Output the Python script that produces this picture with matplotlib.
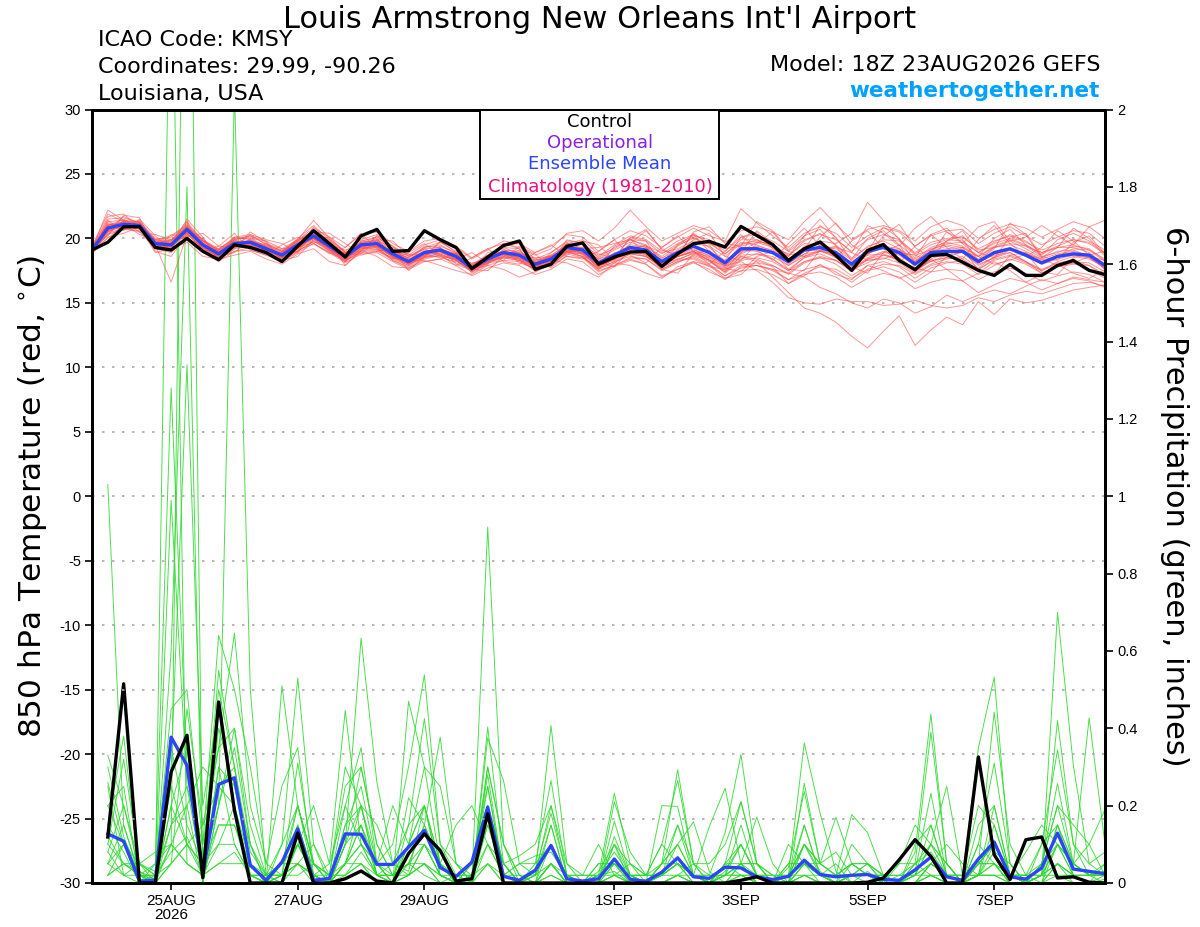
import numpy as np
import matplotlib
matplotlib.use('Agg')
import matplotlib.pyplot as plt
from matplotlib.patches import Rectangle

plt.rcParams['font.family'] = ['DejaVu Sans']
plt.rcParams['axes.unicode_minus'] = False

# ---------------- data ----------------
title = "Louis Armstrong New Orleans Int'l Airport"
info_left = ["ICAO Code: KMSY", "Coordinates: 29.99, -90.26", "Louisiana, USA"]
model_text = "Model: 18Z 23AUG2026 GEFS"
site_text = "weathertogether.net"
legend_labels = ["Control", "Operational", "Ensemble Mean", "Climatology (1981-2010)"]

x_tick_hours = [30, 78, 126, 198, 246, 294, 342]
x_tick_labels = ["25AUG\n2026", "27AUG", "29AUG", "1SEP", "3SEP", "5SEP", "7SEP"]
temp_ticks = [-30, -25, -20, -15, -10, -5, 0, 5, 10, 15, 20, 25, 30]
precip_ticks = [0, 0.2, 0.4, 0.6, 0.8, 1.0, 1.2, 1.4, 1.6, 1.8, 2.0]
precip_tick_labels = ["0", "0.2", "0.4", "0.6", "0.8", "1", "1.2", "1.4", "1.6", "1.8", "2"]

# 850 hPa temperature, 0h..384h every 6 h
temp_control = [19.1, 19.7, 20.9, 20.9, 19.3, 19.1, 20.0, 19.0, 18.35, 19.5,
                19.3, 18.9, 18.2, 19.4, 20.6, 19.6, 18.55, 20.2, 20.7, 19.0,
                19.05, 20.6, 19.9, 19.3, 17.65, 18.55, 19.45, 19.8, 17.6, 18.0,
                19.4, 19.65, 18.0, 18.55, 18.94, 18.99, 17.83, 18.81, 19.59, 19.77,
                19.33, 20.93, 20.23, 19.53, 18.29, 19.2, 19.72, 18.68, 17.52, 19.07,
                19.53, 18.29, 17.57, 18.68, 18.76, 18.16, 17.52, 17.13, 17.98, 17.13,
                17.13, 17.9, 18.29, 17.52, 17.2]
temp_mean = [19.1, 20.8, 21.1, 21.0, 19.6, 19.5, 20.7, 19.5, 18.8, 19.6,
             19.7, 19.2, 18.7, 19.5, 20.2, 19.4, 18.6, 19.5, 19.6, 18.8,
             18.2, 18.9, 19.1, 18.6, 17.7, 18.4, 18.9, 18.7, 18.0, 18.4,
             19.3, 19.1, 18.1, 18.7, 19.3, 19.1, 18.2, 18.9, 19.4, 18.9,
             18.1, 19.2, 19.2, 18.9, 18.2, 19.1, 19.3, 18.9, 18.0, 19.0,
             19.3, 18.9, 18.0, 18.9, 19.0, 19.0, 18.2, 18.9, 19.2, 18.7,
             18.1, 18.6, 18.8, 18.7, 17.9]
temp_members = [
    [19.3, 21.5, 21.6, 21.2, 19.9, 20.1, 21.0, 19.8, 19.0, 19.9,
     20.2, 19.6, 19.0, 19.8, 20.6, 19.9, 19.0, 19.9, 20.3, 19.4,
     18.7, 19.5, 19.9, 19.3, 18.4, 19.1, 19.8, 19.6, 18.9, 19.4,
     20.3, 20.1, 19.0, 19.9, 20.6, 20.2, 19.3, 20.1, 20.8, 20.2,
     19.8, 22.3, 21.2, 20.2, 19.3, 20.4, 20.9, 20.4, 19.3, 20.2,
     20.8, 20.5, 19.4, 20.2, 20.6, 20.7, 19.6, 20.4, 20.9, 20.2,
     19.5, 20.1, 20.6, 20.4, 19.4],
    [19.0, 20.3, 20.7, 20.6, 19.2, 18.9, 20.1, 19.0, 18.2, 19.0,
     19.1, 18.7, 18.2, 18.9, 19.6, 18.9, 18.1, 18.8, 18.9, 18.2,
     17.6, 18.2, 18.4, 17.9, 17.1, 17.7, 18.1, 17.9, 17.2, 17.6,
     18.4, 18.2, 17.2, 17.8, 18.3, 18.0, 17.1, 17.6, 18.1, 17.6,
     16.8, 17.8, 17.9, 17.5, 16.8, 17.6, 17.9, 17.4, 16.6, 17.5,
     17.8, 17.4, 16.6, 17.4, 17.6, 17.5, 16.8, 17.4, 17.7, 17.3,
     16.7, 17.1, 17.4, 17.2, 16.6],
    [19.2, 22.2, 21.4, 21.3, 20.0, 19.8, 21.3, 19.8, 19.1, 20.1,
     20.3, 19.5, 19.0, 19.9, 21.4, 20.0, 18.9, 19.6, 19.9, 19.2,
     18.6, 19.3, 19.7, 19.0, 18.0, 18.7, 19.3, 19.2, 18.4, 18.9,
     19.8, 19.7, 18.5, 19.3, 19.9, 19.8, 18.8, 19.6, 20.2, 19.9,
     19.0, 20.1, 20.3, 19.8, 19.0, 19.9, 20.3, 19.9, 19.0, 19.9,
     20.3, 19.9, 18.9, 19.7, 20.0, 20.1, 19.2, 19.8, 20.2, 19.7,
     19.1, 19.6, 19.9, 19.7, 18.9],
    [19.0, 20.5, 21.0, 21.1, 19.5, 16.6, 20.3, 19.3, 18.6, 19.4,
     19.4, 19.0, 18.5, 19.2, 19.9, 19.2, 18.3, 19.2, 19.4, 18.5,
     17.9, 18.6, 18.8, 18.3, 17.4, 18.1, 18.7, 18.5, 17.7, 18.2,
     19.0, 18.8, 17.8, 18.4, 19.0, 18.8, 17.9, 18.6, 19.0, 18.5,
     17.7, 18.7, 18.8, 18.4, 17.6, 18.5, 18.8, 18.3, 17.4, 18.4,
     18.7, 18.3, 17.4, 18.3, 18.5, 18.4, 17.6, 18.3, 18.6, 18.1,
     17.5, 18.0, 18.2, 18.1, 17.4],
    [19.2, 21.0, 21.5, 20.8, 19.8, 19.9, 20.9, 19.6, 18.9, 19.5,
     19.9, 19.4, 18.5, 19.3, 20.0, 19.0, 18.4, 19.7, 19.8, 18.6,
     18.0, 18.7, 19.4, 18.9, 17.9, 18.2, 18.5, 18.3, 17.6, 18.6,
     19.6, 19.5, 18.7, 19.2, 19.9, 19.5, 18.4, 19.4, 20.1, 19.3,
     18.2, 19.0, 19.7, 19.6, 18.6, 19.8, 20.4, 19.5, 18.5, 19.3,
     19.9, 19.8, 18.7, 19.1, 19.8, 20.2, 19.1, 19.3, 19.6, 19.4,
     18.6, 18.9, 19.4, 19.2, 18.3],
    [19.0, 20.9, 21.3, 21.3, 19.4, 19.7, 20.5, 19.6, 18.9, 19.8,
     19.7, 19.0, 18.9, 19.8, 20.4, 19.6, 18.8, 19.3, 19.4, 19.0,
     18.5, 19.3, 19.5, 18.8, 17.6, 18.3, 19.1, 19.0, 18.3, 18.7,
     19.1, 18.9, 17.7, 18.2, 18.6, 18.4, 17.5, 18.1, 18.7, 18.2,
     17.4, 18.4, 18.8, 18.6, 17.9, 18.8, 19.5, 19.2, 18.3, 19.4,
     19.8, 19.2, 18.0, 18.6, 19.0, 18.9, 17.9, 18.5, 18.9, 18.2,
     17.5, 18.2, 18.6, 18.4, 17.8],
    [19.1, 21.2, 21.0, 20.7, 19.7, 19.3, 20.6, 19.2, 18.5, 19.3,
     19.5, 19.1, 18.8, 19.5, 20.4, 19.5, 18.7, 19.8, 20.1, 19.2,
     18.4, 18.9, 18.8, 18.3, 17.5, 18.6, 19.3, 18.8, 18.2, 18.5,
     19.0, 18.6, 17.6, 18.5, 19.3, 19.4, 18.6, 19.5, 20.0, 19.6,
     18.8, 19.9, 19.9, 19.4, 18.4, 19.0, 19.1, 18.5, 17.6, 18.5,
     19.0, 18.7, 17.9, 19.1, 19.6, 19.7, 18.9, 19.6, 20.0, 19.5,
     18.8, 19.3, 19.5, 19.1, 18.2],
    [19.3, 20.6, 21.7, 21.2, 19.6, 19.4, 20.9, 19.9, 19.1, 19.7,
     19.6, 19.3, 18.6, 19.0, 19.8, 19.1, 18.2, 19.1, 19.2, 18.4,
     17.9, 18.8, 19.0, 18.7, 18.0, 18.5, 18.8, 18.4, 17.7, 18.1,
     19.1, 19.0, 18.3, 18.8, 19.4, 18.9, 17.9, 18.7, 19.2, 18.4,
     17.6, 18.9, 19.4, 19.1, 18.3, 19.4, 19.7, 19.0, 17.9, 18.7,
     18.8, 18.3, 17.5, 18.4, 18.9, 19.1, 18.4, 19.3, 19.8, 19.2,
     18.5, 19.0, 19.1, 18.6, 17.6],
    [18.9, 20.4, 20.8, 20.5, 19.3, 19.6, 20.4, 19.5, 18.7, 19.4,
     19.6, 19.4, 19.0, 19.6, 20.0, 19.3, 18.5, 19.4, 19.5, 18.9,
     18.5, 19.2, 19.3, 18.5, 17.8, 18.6, 19.0, 18.7, 18.1, 18.7,
     19.5, 19.3, 18.4, 19.1, 19.7, 19.3, 18.5, 19.0, 19.3, 18.6,
     17.9, 19.1, 19.0, 18.4, 17.5, 18.2, 18.6, 18.3, 17.6, 18.8,
     19.4, 19.2, 18.4, 19.3, 19.7, 19.4, 18.6, 19.4, 19.9, 19.4,
     18.9, 19.3, 19.3, 18.9, 18.0],
    [19.2, 20.7, 21.2, 20.9, 19.5, 19.2, 20.8, 19.3, 18.6, 19.9,
     20.1, 19.3, 18.4, 19.2, 20.1, 19.2, 18.3, 19.2, 19.3, 18.3,
     17.8, 18.5, 18.9, 18.5, 17.4, 18.1, 18.6, 18.4, 17.5, 17.9,
     18.9, 18.8, 17.9, 18.7, 19.5, 19.3, 18.1, 18.6, 19.0, 18.3,
     17.3, 18.3, 18.5, 18.2, 17.5, 18.5, 19.0, 18.8, 18.0, 18.9,
     19.3, 19.0, 18.2, 19.2, 19.5, 19.3, 18.3, 18.7, 18.9, 18.2,
     17.3, 17.8, 18.0, 17.9, 17.0],
    [19.0, 21.0, 21.2, 21.1, 19.9, 20.2, 21.1, 19.9, 19.2, 20.0,
     20.2, 19.8, 19.2, 19.9, 20.8, 20.1, 19.3, 20.3, 20.5, 19.6,
     19.0, 19.8, 20.0, 19.4, 18.5, 19.2, 19.6, 19.3, 18.7, 19.2,
     20.4, 20.6, 19.8, 20.8, 22.2, 20.9, 19.8, 20.4, 21.0, 20.6,
     19.7, 20.6, 20.9, 20.5, 19.9, 21.3, 22.4, 21.1, 19.9, 20.7,
     21.0, 20.6, 19.8, 20.9, 21.4, 21.0, 20.0, 20.7, 21.1, 20.8,
     20.1, 20.7, 21.3, 20.9, 20.0],
    [19.1, 20.9, 20.9, 21.4, 19.8, 19.6, 20.6, 19.4, 18.8, 19.5,
     19.5, 19.0, 18.5, 19.5, 20.1, 19.3, 18.4, 19.3, 19.4, 18.6,
     18.0, 18.5, 18.7, 18.3, 17.5, 18.2, 18.8, 18.6, 17.8, 18.1,
     18.9, 18.6, 17.6, 18.1, 18.8, 18.6, 17.8, 18.6, 19.1, 18.7,
     18.0, 19.5, 19.9, 19.3, 18.1, 18.8, 19.0, 18.6, 17.8, 18.3,
     18.5, 18.1, 17.3, 18.0, 18.4, 18.6, 17.7, 18.6, 19.2, 18.8,
     18.2, 18.7, 18.9, 18.5, 17.7],
    [19.2, 21.3, 21.4, 20.9, 19.4, 19.0, 20.5, 19.6, 19.0, 19.8,
     19.8, 19.3, 18.9, 19.7, 20.3, 19.5, 18.8, 19.7, 19.9, 19.1,
     18.4, 18.9, 19.2, 18.8, 17.9, 18.4, 18.9, 18.9, 18.3, 18.6,
     19.2, 19.1, 18.4, 18.8, 19.2, 18.9, 18.0, 18.6, 18.9, 18.3,
     17.5, 18.6, 18.4, 17.9, 17.2, 18.1, 18.5, 18.0, 17.1, 17.9,
     18.2, 17.8, 16.9, 17.7, 18.1, 18.3, 17.6, 18.4, 18.7, 18.2,
     17.6, 18.1, 18.3, 17.9, 17.2],
    [19.0, 20.6, 21.0, 21.1, 19.7, 19.8, 21.0, 19.7, 18.9, 19.5,
     19.8, 19.5, 19.1, 19.8, 20.5, 19.8, 18.9, 19.6, 19.5, 18.7,
     18.1, 18.9, 19.2, 18.6, 17.6, 18.1, 18.5, 18.3, 17.8, 18.3,
     19.3, 19.3, 18.6, 19.5, 20.2, 19.9, 19.0, 19.8, 20.3, 19.7,
     18.8, 19.7, 19.5, 19.0, 18.3, 19.3, 19.8, 19.6, 20.4, 22.8,
     21.4, 19.9, 18.8, 19.5, 19.9, 19.8, 18.9, 19.7, 20.3, 19.8,
     18.9, 19.4, 19.9, 19.6, 18.8],
    [19.1, 20.5, 21.2, 21.0, 19.5, 19.4, 20.4, 19.1, 18.4, 19.2,
     19.4, 18.9, 18.3, 19.0, 19.8, 19.0, 18.2, 19.0, 19.1, 18.3,
     17.7, 18.4, 18.7, 18.3, 17.5, 18.2, 18.7, 18.3, 17.5, 18.0,
     18.8, 18.5, 17.4, 17.9, 18.4, 18.0, 17.0, 17.6, 18.2, 17.9,
     17.1, 17.9, 18.1, 17.9, 17.3, 18.2, 18.5, 18.3, 17.5, 18.4,
     18.9, 18.8, 18.2, 19.0, 19.4, 19.1, 18.1, 18.8, 19.1, 18.6,
     18.0, 18.4, 18.7, 18.5, 17.7],
    [19.2, 21.1, 20.9, 20.8, 19.6, 19.5, 20.8, 19.8, 19.1, 20.0,
     20.0, 19.2, 18.7, 19.4, 20.0, 19.4, 18.7, 19.6, 19.8, 19.0,
     18.3, 19.0, 19.0, 18.4, 17.6, 18.5, 19.1, 18.9, 18.2, 18.6,
     19.3, 19.0, 17.9, 18.3, 18.9, 19.0, 18.3, 19.1, 19.6, 19.4,
     18.6, 19.6, 19.8, 19.5, 18.7, 19.6, 19.5, 18.8, 17.9, 18.8,
     19.3, 19.1, 18.3, 19.0, 19.2, 19.3, 18.6, 19.3, 19.5, 19.0,
     18.4, 18.8, 19.0, 18.7, 17.9],
    [19.0, 20.8, 21.3, 21.2, 19.6, 19.8, 20.9, 19.4, 18.7, 19.6,
     19.8, 19.4, 18.9, 19.6, 20.2, 19.3, 18.5, 19.4, 19.6, 18.9,
     18.3, 18.8, 19.1, 18.8, 17.9, 18.6, 19.0, 18.6, 17.9, 18.2,
     19.0, 18.9, 18.0, 18.6, 19.2, 18.8, 17.6, 18.2, 18.5, 17.9,
     16.9, 17.5, 17.6, 17.2, 16.5, 17.3, 17.8, 17.6, 16.9, 17.6,
     18.0, 17.9, 17.2, 17.9, 18.2, 18.0, 17.2, 17.9, 18.4, 18.0,
     17.3, 17.8, 18.1, 17.6, 16.9],
    [19.1, 20.7, 21.1, 21.0, 19.5, 19.3, 20.6, 19.5, 18.8, 19.6,
     19.6, 19.1, 18.6, 19.4, 20.1, 19.2, 18.5, 19.3, 19.4, 18.6,
     18.0, 18.7, 19.0, 18.5, 17.6, 18.2, 18.6, 18.4, 17.9, 18.3,
     19.1, 18.9, 17.8, 18.4, 19.2, 18.9, 17.9, 18.6, 19.0, 18.3,
     17.4, 18.6, 18.2, 17.0, 15.8, 14.6, 14.2, 13.5, 12.4, 11.5,
     12.8, 14.0, 11.7, 12.9, 13.9, 13.3, 15.1, 14.1, 15.3, 15.0,
     15.2, 15.6, 16.0, 16.2, 16.4],
    [19.0, 21.0, 21.3, 21.1, 19.6, 19.4, 20.7, 19.3, 18.6, 19.5,
     19.8, 19.3, 18.8, 19.6, 20.3, 19.6, 18.8, 19.7, 19.8, 18.9,
     18.3, 19.0, 19.2, 18.7, 17.8, 18.5, 19.0, 18.8, 18.1, 18.5,
     19.4, 19.2, 18.2, 18.6, 19.0, 18.6, 17.7, 18.4, 18.8, 18.3,
     17.9, 18.2, 17.5, 16.6, 15.4, 15.0, 14.9, 15.3, 15.1, 15.1,
     14.8, 14.9, 15.2, 14.8, 14.6, 14.8, 15.4, 15.1, 15.6, 15.9,
     15.7, 16.1, 16.5, 16.6, 16.3],
    [19.2, 20.6, 21.0, 20.9, 19.7, 19.7, 20.8, 19.6, 18.9, 19.7,
     19.7, 19.1, 18.6, 19.4, 20.0, 19.2, 18.4, 19.2, 19.3, 18.6,
     18.1, 18.7, 18.9, 18.4, 17.7, 18.4, 18.8, 18.5, 17.9, 18.3,
     19.0, 18.6, 17.5, 17.9, 18.5, 18.4, 17.6, 18.2, 18.6, 18.0,
     17.1, 17.7, 17.9, 17.6, 16.8, 17.2, 17.4, 17.0, 16.2, 16.9,
     17.3, 17.0, 16.1, 16.6, 16.9, 16.7, 15.8, 16.4, 16.9, 16.6,
     16.0, 16.5, 16.9, 16.7, 16.2],
    [19.4, 21.9, 21.3, 20.5, 20.3, 19.9, 20.1, 20.4, 19.4, 19.3,
     20.3, 19.9, 19.6, 18.9, 20.5, 20.4, 19.6, 18.8, 19.9, 19.8,
     18.6, 19.2, 18.6, 18.4, 18.9, 18.1, 18.3, 19.4, 18.8, 17.7,
     18.7, 19.8, 19.5, 18.3, 19.6, 20.6, 19.2, 18.6, 20.5, 20.9,
     19.6, 19.4, 21.3, 20.6, 19.1, 20.2, 21.5, 20.0, 18.9, 21.0,
     20.4, 19.4, 20.8, 21.7, 20.5, 19.6, 20.9, 21.3, 19.8, 20.1,
     21.0, 20.2, 19.5, 20.9, 21.4],
    [18.8, 20.1, 20.4, 20.9, 18.9, 19.2, 19.7, 18.6, 18.4, 18.7,
     19.0, 18.4, 18.0, 18.8, 19.2, 18.2, 17.9, 19.1, 18.6, 17.8,
     17.7, 18.3, 17.9, 17.5, 17.2, 17.9, 17.6, 17.0, 17.4, 18.3,
     18.1, 17.6, 17.0, 18.1, 17.9, 17.3, 16.9, 17.8, 18.2, 17.4,
     16.9, 17.2, 18.3, 17.8, 16.5, 17.1, 18.0, 17.2, 16.8, 17.9,
     17.5, 16.9, 17.4, 18.4, 17.6, 16.7, 17.3, 18.2, 17.5, 16.6,
     17.2, 18.0, 17.3, 16.9, 17.6],
    [19.3, 20.2, 21.8, 21.6, 19.2, 20.3, 20.1, 19.0, 19.4, 20.4,
     19.1, 18.7, 19.5, 20.1, 19.6, 18.8, 19.3, 20.4, 19.2, 18.4,
     18.9, 19.6, 18.7, 17.9, 18.5, 19.2, 18.2, 18.0, 18.9, 19.5,
     18.6, 18.4, 19.0, 19.9, 18.7, 18.1, 19.3, 20.2, 19.0, 18.0,
     19.0, 20.3, 19.1, 18.3, 19.6, 20.8, 19.4, 18.5, 19.8, 20.6,
     19.2, 18.1, 19.4, 20.3, 19.3, 18.4, 19.9, 21.0, 19.6, 18.6,
     19.3, 20.6, 19.8, 18.7, 19.0],
    [19.0, 21.4, 20.6, 21.5, 20.2, 19.1, 21.3, 19.0, 19.2, 19.9,
     19.2, 18.8, 18.9, 20.0, 21.0, 19.9, 18.6, 19.0, 20.2, 19.4,
     18.0, 18.5, 19.7, 19.2, 17.8, 18.0, 19.5, 19.6, 18.4, 18.2,
     19.6, 19.9, 18.8, 18.5, 20.0, 20.7, 19.1, 18.7, 19.9, 20.4,
     18.6, 18.3, 19.6, 20.5, 19.0, 18.6, 20.1, 21.2, 19.5, 18.7,
     20.2, 21.1, 19.3, 18.5, 19.8, 20.6, 18.9, 18.5, 20.1, 20.4,
     18.6, 18.3, 19.7, 20.2, 18.8],
    [19.1, 20.0, 21.1, 20.3, 19.9, 19.6, 20.2, 20.0, 18.6, 18.9,
     20.0, 19.8, 18.3, 18.6, 19.9, 20.1, 18.9, 18.7, 19.0, 19.3,
     18.8, 18.2, 18.4, 18.9, 17.6, 17.5, 18.6, 19.1, 17.9, 17.8,
     19.0, 19.2, 18.2, 17.8, 19.1, 19.5, 17.6, 17.3, 18.8, 19.1,
     17.7, 17.4, 18.6, 19.0, 17.6, 17.5, 19.1, 19.4, 17.8, 17.3,
     18.9, 19.5, 17.7, 17.4, 18.6, 19.3, 17.5, 17.2, 18.7, 18.9,
     17.4, 17.2, 18.5, 18.8, 17.6],
    [19.2, 21.7, 21.9, 20.8, 19.3, 19.4, 21.5, 20.1, 18.3, 19.2,
     20.5, 19.7, 18.2, 19.0, 20.9, 19.7, 17.9, 19.0, 20.2, 19.1,
     17.5, 18.6, 19.8, 18.9, 17.3, 18.0, 19.6, 19.2, 17.4, 18.0,
     19.9, 19.6, 17.9, 18.4, 20.1, 19.8, 18.0, 18.7, 20.4, 19.5,
     17.8, 18.9, 20.6, 19.6, 18.0, 19.1, 21.0, 20.1, 18.2, 19.0,
     20.9, 20.0, 18.1, 18.8, 20.5, 19.9, 18.3, 19.2, 21.2, 20.3,
     18.5, 19.3, 20.8, 20.0, 18.6],
    [18.9, 20.9, 20.7, 21.0, 19.0, 18.6, 20.3, 19.8, 19.0, 19.3,
     19.4, 19.6, 19.2, 19.3, 19.7, 19.5, 19.1, 19.4, 19.1, 19.0,
     18.7, 18.8, 18.5, 18.2, 18.1, 18.3, 18.5, 18.6, 18.5, 18.6,
     18.9, 19.2, 19.3, 19.6, 19.9, 19.4, 18.9, 19.2, 19.8, 19.6,
     19.2, 19.4, 19.7, 19.3, 18.8, 18.6, 19.0, 19.3, 18.9, 18.3,
     18.4, 18.9, 18.7, 18.2, 18.5, 19.0, 18.6, 18.0, 18.3, 18.8,
     18.4, 17.9, 18.1, 18.6, 18.3],
    [19.1, 20.5, 21.2, 20.9, 19.5, 19.9, 20.4, 19.2, 18.9, 19.8,
     19.5, 19.0, 18.8, 19.7, 20.0, 19.1, 18.6, 19.5, 19.4, 18.6,
     18.3, 19.1, 19.0, 18.4, 17.9, 18.7, 18.8, 18.5, 18.1, 18.6,
     19.2, 18.8, 18.0, 18.9, 19.1, 18.7, 18.0, 18.4, 18.4, 17.8,
     17.6, 18.0, 17.9, 17.6, 17.3, 17.0, 16.2, 15.7, 15.0, 14.6,
     15.3, 15.0, 14.2, 14.7, 15.6, 15.1, 15.6, 16.0, 15.7, 16.3,
     16.8, 16.5, 17.0, 16.8, 16.6],
    [19.3, 21.1, 21.0, 21.2, 19.8, 19.5, 20.9, 19.1, 18.7, 20.1,
     19.9, 19.0, 18.6, 19.9, 20.6, 19.1, 18.2, 19.8, 20.0, 18.5,
     18.2, 19.4, 19.3, 18.0, 17.5, 18.9, 19.2, 18.1, 17.7, 18.9,
     19.7, 18.7, 17.8, 19.4, 20.0, 18.7, 17.8, 19.5, 20.3, 19.0,
     18.3, 20.1, 20.5, 19.2, 18.6, 20.2, 20.7, 19.4, 18.4, 20.0,
     20.6, 19.5, 18.5, 20.3, 20.8, 19.6, 18.6, 20.0, 20.7, 19.5,
     18.7, 19.9, 20.4, 19.8, 19.1],
    [19.0, 20.3, 21.4, 21.0, 19.6, 19.2, 20.0, 19.4, 18.5, 19.0,
     19.3, 18.9, 18.4, 19.1, 19.6, 18.9, 18.3, 18.9, 19.0, 18.5,
     18.1, 18.6, 18.6, 18.1, 17.6, 17.9, 18.3, 18.2, 17.6, 17.9,
     18.6, 18.5, 17.7, 18.2, 18.8, 18.6, 17.8, 18.3, 18.9, 18.6,
     17.9, 18.8, 19.3, 18.9, 17.9, 18.6, 19.1, 18.7, 17.6, 18.1,
     18.7, 18.5, 17.6, 18.2, 18.7, 18.9, 18.0, 18.5, 19.1, 18.9,
     18.3, 18.6, 19.2, 19.1, 18.4],
]

# 6-hour precipitation, 6h..384h every 6 h (inches)
precip_control = [0.119, 0.515, 0, 0, 0.287, 0.382, 0.014, 0.468,
                  0.188, 0, 0, 0, 0.129, 0, 0, 0.011,
                  0.031, 0.005, 0, 0.076, 0.127, 0.084, 0.005, 0.011,
                  0.179, 0, 0, 0, 0, 0, 0, 0,
                  0, 0, 0, 0, 0, 0, 0, 0,
                  0.007, 0.016, 0, 0, 0, 0, 0, 0,
                  0.002, 0.013, 0.06, 0.112, 0.069, 0, 0, 0.326,
                  0.073, 0.009, 0.112, 0.119, 0.013, 0.016, 0.002, 0]
precip_mean = [0.127, 0.108, 0.005, 0.007, 0.377, 0.304, 0.024, 0.255,
               0.272, 0.046, 0.007, 0.054, 0.14, 0.007, 0.012, 0.127,
               0.126, 0.048, 0.048, 0.093, 0.136, 0.04, 0.017, 0.054,
               0.196, 0.017, 0.007, 0.033, 0.097, 0.011, 0.005, 0.011,
               0.062, 0.01, 0.004, 0.028, 0.065, 0.016, 0.012, 0.041,
               0.039, 0.016, 0.009, 0.017, 0.059, 0.022, 0.016, 0.02,
               0.022, 0.009, 0.007, 0.034, 0.067, 0.016, 0.007, 0.062,
               0.106, 0.016, 0.01, 0.039, 0.129, 0.036, 0.03, 0.024]
precip_members = [
    [1.03, 0.15, 0.02, 0, 2.6, 0.05, 0.02, 0.3,
     0.25, 0.1, 0, 0.02, 0.31, 0.05, 0, 0.2,
     0.35, 0.05, 0, 0.15, 0.425, 0.1, 0.02, 0,
     0.403, 0.05, 0, 0.03, 0.18, 0.02, 0, 0,
     0.16, 0.02, 0, 0.05, 0.293, 0.05, 0, 0.03,
     0.1, 0.02, 0, 0.04, 0.237, 0.05, 0.02, 0.05,
     0.02, 0, 0, 0.08, 0.437, 0.05, 0, 0.1,
     0.31, 0.05, 0, 0.02, 0.42, 0.1, 0.05, 0.08],
    [0.33, 0.2, 0.03, 0.01, 0.1, 3.3, 0, 0.2,
     0.4, 0.15, 0.02, 0, 0.15, 0.02, 0, 0.1,
     0.633, 0.26, 0.05, 0.03, 0.2, 0.05, 0, 0.02,
     0.3, 0.1, 0.02, 0, 0.05, 0, 0, 0.02,
     0.232, 0.05, 0, 0.02, 0.1, 0.158, 0.03, 0,
     0.05, 0, 0, 0.02, 0.1, 0.03, 0, 0.02,
     0.05, 0.02, 0, 0.03, 0.232, 0.02, 0, 0.05,
     0.442, 0.1, 0.02, 0, 0.15, 0.05, 0.1, 0.19],
    [0.26, 0.1, 0, 0.05, 1.28, 0.3, 0.05, 0.5,
     0.3, 0.05, 0, 0.1, 0.53, 0.1, 0, 0.05,
     0.2, 0.02, 0, 0.47, 0.3, 0.05, 0, 0.01,
     0.2, 0.05, 0, 0.02, 0.407, 0.05, 0, 0.03,
     0.1, 0.02, 0, 0.2, 0.198, 0.02, 0, 0.05,
     0.21, 0.05, 0, 0.02, 0.362, 0.18, 0.03, 0,
     0.03, 0, 0.02, 0.05, 0.39, 0.05, 0, 0.02,
     0.15, 0.02, 0, 0.05, 0.257, 0.05, 0.02, 0.03],
    [0.15, 0.38, 0.02, 0.02, 0.3, 1.34, 0.2, 0.45,
     0.2, 0.02, 0, 0.05, 0.2, 0.05, 0.02, 0.25,
     0.3, 0.1, 0.02, 0.05, 0.15, 0.377, 0.05, 0,
     0.375, 0.265, 0.05, 0.02, 0.1, 0.02, 0, 0,
     0.21, 0.08, 0.02, 0.1, 0.265, 0.05, 0.02, 0.13,
     0.332, 0.05, 0, 0.02, 0.1, 0.05, 0.17, 0.05,
     0.02, 0, 0.05, 0.15, 0.1, 0.02, 0, 0.02,
     0.08, 0.05, 0, 0.1, 0.344, 0.1, 0.02, 0],
    [0.1, 0.32, 0.05, 0, 0.99, 0.25, 0.1, 0.35,
     0.646, 0.2, 0.05, 0.25, 0.35, 0.02, 0, 0.15,
     0.25, 0.05, 0.1, 0.3, 0.538, 0.1, 0.05, 0,
     0.25, 0.02, 0, 0.05, 0.265, 0.02, 0, 0.05,
     0.05, 0.02, 0, 0.05, 0.1, 0.02, 0.146, 0.245,
     0.05, 0.17, 0.05, 0, 0.258, 0.05, 0.02, 0.177,
     0.13, 0.02, 0, 0.02, 0.1, 0.25, 0.02, 0.349,
     0.532, 0.05, 0, 0.02, 0.7, 0.304, 0.05, 0.02],
    [0.05, 0.15, 0.02, 0.01, 0.6, 1.8, 0, 0.2,
     2.05, 0.5, 0.02, 0, 0.1, 0.02, 0, 0.05,
     0.15, 0.02, 0, 0.1, 0.2, 0.02, 0, 0.01,
     0.92, 0.1, 0.02, 0, 0.05, 0, 0, 0.02,
     0.03, 0, 0.01, 0.02, 0.05, 0.02, 0, 0.02,
     0.1, 0.02, 0, 0.05, 0.05, 0.02, 0, 0.1,
     0.05, 0, 0, 0.02, 0.05, 0.02, 0.02, 0.2,
     0.15, 0.02, 0.08, 0.15, 0.1, 0.05, 0.427, 0.1],
    [0.2, 0.1, 0.05, 0.03, 0.45, 0.5, 0.1, 0.64,
     0.5, 0.3, 0.05, 0.02, 0.1, 0.2, 0.05, 0.446,
     0.1, 0.02, 0, 0.22, 0.15, 0.05, 0.15, 0.2,
     0.1, 0.05, 0.07, 0.1, 0.2, 0.05, 0.02, 0.1,
     0.02, 0.05, 0.02, 0.1, 0.05, 0, 0, 0.05,
     0.02, 0, 0, 0.1, 0.05, 0.05, 0.08, 0.02,
     0.02, 0.02, 0.05, 0.05, 0.02, 0, 0, 0.05,
     0.1, 0.02, 0.02, 0.1, 0.15, 0.02, 0, 0.05],
    [0.12, 0.05, 0.02, 0, 0.2, 0.35, 0.05, 0.55,
     0.3, 0.02, 0, 0.51, 0.2, 0.05, 0.02, 0.3,
     0.2, 0.15, 0.05, 0.02, 0.1, 0.05, 0, 0.02,
     0.15, 0.02, 0, 0.02, 0.2, 0.02, 0, 0,
     0.1, 0.05, 0.02, 0.02, 0.05, 0.02, 0, 0.02,
     0.05, 0.05, 0.02, 0, 0.1, 0.05, 0.02, 0.05,
     0.05, 0.02, 0, 0.1, 0.15, 0.02, 0, 0.05,
     0.05, 0.02, 0, 0.05, 0.1, 0.05, 0.02, 0.03],
    [0.08, 0.2, 0.05, 0.02, 0.15, 0.25, 0.02, 0.4,
     0.25, 0.05, 0, 0.05, 0.15, 0.02, 0.05, 0.2,
     0.1, 0.05, 0.2, 0.1, 0.3, 0.25, 0.05, 0.02,
     0.2, 0.02, 0, 0, 0.05, 0, 0, 0.05,
     0.05, 0.02, 0, 0, 0.02, 0.05, 0.05, 0.1,
     0.21, 0.05, 0, 0, 0.05, 0.02, 0, 0.02,
     0.02, 0, 0, 0, 0.05, 0.1, 0.05, 0.02,
     0.1, 0.02, 0.02, 0.05, 0.2, 0.15, 0.1, 0.02],
    [0.05, 0.1, 0.02, 0.05, 0.1, 0.2, 0.3, 0.25,
     0.2, 0.02, 0.02, 0.02, 0.05, 0.1, 0.02, 0.05,
     0.15, 0.02, 0.02, 0.1, 0.1, 0.02, 0, 0.05,
     0.25, 0.02, 0.05, 0.05, 0.1, 0.02, 0, 0.02,
     0.05, 0.02, 0.02, 0.05, 0.1, 0.02, 0, 0,
     0.05, 0.02, 0, 0.05, 0.05, 0.02, 0.05, 0,
     0, 0, 0, 0.05, 0.1, 0.05, 0, 0.05,
     0.05, 0, 0, 0.02, 0.05, 0.02, 0, 0.01],
    [0.02, 0.05, 0.03, 0, 0.05, 0.1, 0.15, 0.35,
     0.4, 0.1, 0, 0.02, 0.1, 0.05, 0, 0.1,
     0.3, 0.1, 0.02, 0.05, 0.05, 0, 0, 0,
     0.3, 0.1, 0, 0, 0.05, 0, 0, 0,
     0.05, 0, 0, 0, 0.02, 0, 0, 0,
     0.02, 0, 0, 0, 0.05, 0, 0, 0.02,
     0, 0, 0, 0, 0.02, 0, 0, 0.02,
     0.05, 0, 0, 0, 0.1, 0.02, 0, 0],
    [0.15, 0.08, 0, 0, 0.35, 0.15, 0.05, 0.2,
     0.35, 0.1, 0.02, 0.1, 0.2, 0.05, 0, 0.15,
     0.2, 0.05, 0, 0.1, 0.2, 0.05, 0.02, 0,
     0.15, 0.05, 0, 0, 0.15, 0, 0, 0,
     0.1, 0, 0, 0.05, 0.15, 0.02, 0, 0.05,
     0.1, 0.02, 0, 0, 0.15, 0.02, 0, 0.02,
     0.02, 0, 0, 0.02, 0.1, 0.05, 0, 0.02,
     0.2, 0.02, 0, 0.02, 0.15, 0.05, 0.02, 0.05],
    [0.05, 0.02, 0, 0.02, 0.25, 0.1, 0.02, 0.15,
     0.15, 0.05, 0, 0, 0.1, 0.02, 0, 0.05,
     0.1, 0.02, 0, 0.05, 0.1, 0.02, 0, 0,
     0.2, 0.02, 0, 0, 0.1, 0.02, 0, 0,
     0.02, 0, 0, 0.02, 0.05, 0, 0, 0.02,
     0.05, 0, 0, 0, 0.02, 0, 0, 0,
     0, 0, 0, 0, 0.05, 0.02, 0, 0.1,
     0.05, 0, 0, 0, 0.05, 0, 0, 0.02],
    [0.3, 0.12, 0.02, 0, 0.05, 0.1, 0.05, 0.1,
     0.1, 0.02, 0.02, 0.05, 0.05, 0, 0, 0.02,
     0.05, 0, 0, 0.02, 0.05, 0, 0, 0,
     0.05, 0, 0, 0, 0.02, 0, 0, 0,
     0.02, 0, 0, 0, 0.02, 0, 0, 0,
     0, 0, 0, 0, 0.02, 0, 0, 0,
     0, 0, 0, 0, 0.02, 0, 0, 0.02,
     0.02, 0, 0, 0, 0.05, 0.02, 0, 0],
    [0.1, 0.05, 0.05, 0.08, 0.1, 0.05, 0.02, 0.05,
     0.05, 0.05, 0.02, 0.02, 0.02, 0.05, 0.02, 0.02,
     0.05, 0.02, 0.02, 0.05, 0.02, 0, 0.02, 0.02,
     0.1, 0.02, 0.05, 0.07, 0.08, 0.02, 0.02, 0.02,
     0.08, 0.02, 0.02, 0.02, 0.05, 0.02, 0.02, 0.02,
     0.02, 0.02, 0.02, 0.02, 0.05, 0.02, 0.02, 0.05,
     0.02, 0.02, 0.02, 0.02, 0.05, 0.02, 0.02, 0.02,
     0.05, 0.02, 0.02, 0.02, 0.05, 0.02, 0.02, 0.02],
    [0.02, 0.05, 0.02, 0, 0.1, 0.05, 0.02, 0.1,
     0.2, 0.05, 0, 0, 0.05, 0.02, 0, 0.1,
     0.15, 0.05, 0, 0.02, 0.1, 0.02, 0, 0,
     0.1, 0.02, 0, 0, 0.05, 0, 0, 0,
     0.05, 0, 0, 0.02, 0.05, 0.02, 0, 0.02,
     0.05, 0, 0, 0, 0.05, 0.02, 0, 0.02,
     0.02, 0, 0, 0, 0.05, 0.02, 0, 0.05,
     0.1, 0.02, 0, 0.02, 0.1, 0.02, 0.02, 0.02],
    [0.2, 0.25, 0, 0, 0.15, 0.2, 0, 0.3,
     0.1, 0.02, 0, 0.02, 0.2, 0.02, 0, 0.1,
     0.2, 0.02, 0.05, 0.15, 0.2, 0.02, 0, 0.02,
     0.28, 0.02, 0, 0.02, 0.15, 0, 0, 0,
     0.12, 0.02, 0, 0.02, 0.15, 0.05, 0, 0.02,
     0.15, 0.02, 0, 0.02, 0.15, 0.02, 0, 0.05,
     0.05, 0, 0, 0.02, 0.15, 0.02, 0, 0.15,
     0.2, 0.02, 0, 0.05, 0.2, 0.05, 0.02, 0.02],
    [0.25, 0.02, 0.05, 0.02, 0.05, 0.45, 0.15, 0.25,
     0.3, 0.08, 0.02, 0.05, 0.1, 0.02, 0, 0.05,
     0.1, 0.05, 0.02, 0.05, 0.15, 0.05, 0, 0.05,
     0.2, 0.05, 0, 0.02, 0.1, 0.02, 0, 0.02,
     0.05, 0.02, 0, 0.05, 0.05, 0.02, 0, 0.05,
     0.05, 0.05, 0.02, 0, 0.1, 0.02, 0, 0.02,
     0.05, 0.02, 0, 0.05, 0.08, 0.02, 0, 0.05,
     0.1, 0.02, 0, 0.02, 0.1, 0.05, 0.02, 0.02],
    [0.02, 0.1, 0.02, 0, 0.2, 0.1, 0.05, 0.15,
     0.15, 0.02, 0, 0.02, 0.05, 0.02, 0, 0.05,
     0.05, 0, 0, 0.02, 0.05, 0.02, 0, 0,
     0.05, 0, 0, 0, 0.02, 0, 0, 0,
     0.02, 0, 0, 0, 0.02, 0, 0, 0,
     0.02, 0, 0, 0, 0.02, 0, 0, 0,
     0, 0, 0, 0, 0.02, 0, 0, 0.02,
     0.02, 0, 0, 0, 0.02, 0, 0, 0],
    [0.08, 0.02, 0.02, 0.02, 0.08, 0.12, 0.02, 0.05,
     0.08, 0.02, 0.02, 0.02, 0.05, 0.02, 0.02, 0.02,
     0.08, 0.02, 0.02, 0.02, 0.05, 0.02, 0.02, 0.02,
     0.05, 0.02, 0.02, 0.02, 0.05, 0.02, 0.02, 0.02,
     0.02, 0.02, 0.02, 0.02, 0.02, 0.02, 0.02, 0.02,
     0.02, 0.02, 0.02, 0.02, 0.02, 0.02, 0.02, 0.02,
     0.02, 0.02, 0.02, 0.02, 0.02, 0.02, 0.02, 0.02,
     0.02, 0.02, 0.02, 0.02, 0.02, 0.02, 0.02, 0.02],
]

# ---------------- figure ----------------
W, H = 1200, 927
fig = plt.figure(figsize=(W / 100, H / 100), dpi=100)
ax = fig.add_axes([92 / W, 44 / H, 1013 / W, 773.5 / H])
ax2 = ax.twinx()
ax.set_zorder(ax2.get_zorder() + 1)
ax.patch.set_visible(False)

temp_hours = np.arange(len(temp_control)) * 6
precip_hours = (np.arange(len(precip_control)) + 1) * 6

RED = '#ff5050'
GREEN = '#2ed82e'
BLUE = '#2b45ff'

for m in precip_members:
    ax2.plot(precip_hours, m, color=GREEN, lw=0.7, alpha=0.85)
ax2.plot(precip_hours, precip_mean, color=BLUE, lw=2.4)
ax2.plot(precip_hours, precip_control, color='black', lw=2.4)

for m in temp_members:
    ax.plot(temp_hours, m, color=RED, lw=0.7, alpha=0.6)
ax.plot(temp_hours, temp_mean, color=BLUE, lw=2.4)
ax.plot(temp_hours, temp_control, color='black', lw=2.4)

ax.set_xlim(0, 384)
ax.set_ylim(-30, 30)
ax2.set_ylim(0, 2)

ax.set_yticks(temp_ticks)
ax.set_yticklabels([str(t) for t in temp_ticks])
ax2.set_yticks(precip_ticks)
ax2.set_yticklabels(precip_tick_labels)
ax.set_xticks(x_tick_hours)
ax.set_xticklabels(x_tick_labels, linespacing=0.95)

ax.yaxis.grid(True, color='#aaaaaa', linestyle=(0, (1.5, 4.5)), lw=1.2)
ax.set_axisbelow(True)

ax.tick_params(axis='y', direction='out', length=5, width=1.2, labelsize=10.5, pad=3)
ax.tick_params(axis='x', direction='out', length=5, width=1.2, labelsize=11, pad=3)
ax2.tick_params(axis='y', direction='out', length=6, width=1.2, labelsize=10.5, pad=3)
for lbl in ax.get_yticklabels() + ax.get_xticklabels() + ax2.get_yticklabels():
    lbl.set_fontfamily('Liberation Sans')

for a in (ax, ax2):
    for s in a.spines.values():
        s.set_linewidth(2.0)

# legend box
lx0 = (480 - 92) / 1013
lx1 = (719 - 92) / 1013
ly0 = (883 - 199) / 773.5
ax.add_patch(Rectangle((lx0, ly0), lx1 - lx0, 1.0 - ly0, transform=ax.transAxes,
                       facecolor='white', edgecolor='black', lw=1.4, zorder=10, clip_on=False))
legend_colors = ['black', '#8a1fe3', BLUE, '#e8107f']
legend_baselines = [126.7, 147.7, 169.3, 191.7]
for lab, col, yb in zip(legend_labels, legend_colors, legend_baselines):
    ax.text((600 - 92) / 1013, (883 - yb) / 773.5, lab, color=col, fontsize=13,
            ha='center', va='baseline', transform=ax.transAxes, zorder=11)

# header texts
fig.text(600 / W, 1 - 28 / H, title, fontsize=22, ha='center', va='baseline')
for txt, yb in zip(info_left, [46, 73, 100]):
    fig.text(98 / W, 1 - yb / H, txt, fontsize=16, ha='left', va='baseline')
fig.text(1100 / W, 1 - 71 / H, model_text, fontsize=16, ha='right', va='baseline')
fig.text(1100 / W, 1 - 97 / H, site_text, fontsize=15.5, fontweight='bold',
         color='#00a2ff', ha='right', va='baseline')

# axis titles
fig.text(33 / W, 1 - 496 / H, '850 hPa Temperature (red, $^{\\circ}$C)', fontsize=22.5,
         rotation=90, ha='center', va='center')
fig.text(1174 / W, 1 - 496 / H, '6-hour Precipitation (green, inches)', fontsize=22,
         rotation=270, ha='center', va='center')

fig.savefig('out.png', dpi=100)
